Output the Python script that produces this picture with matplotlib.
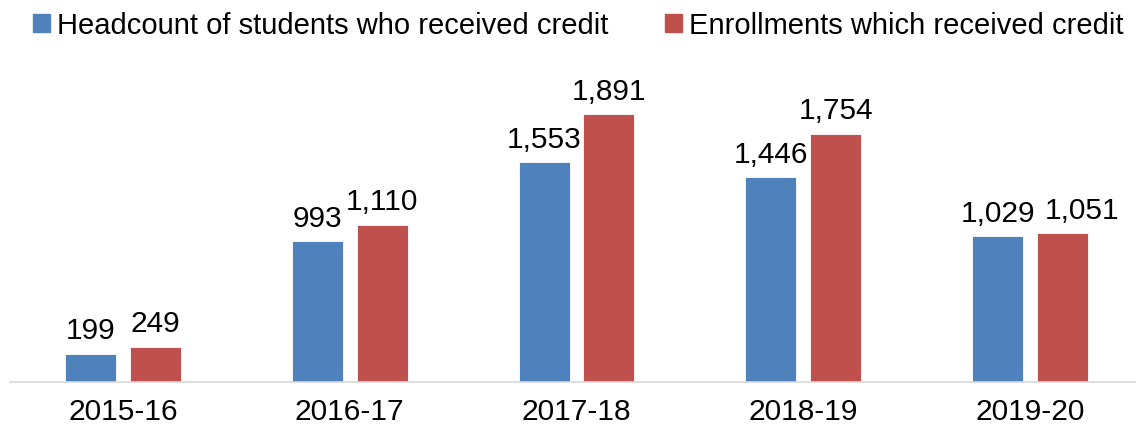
import matplotlib
matplotlib.use("Agg")
import matplotlib.pyplot as plt
import numpy as np
from matplotlib.patches import Patch

plt.rcParams['font.family'] = ['Liberation Sans', 'DejaVu Sans']

years = ["2015-16", "2016-17", "2017-18", "2018-19", "2019-20"]
headcount = [199, 993, 1553, 1446, 1029]
enrollments = [249, 1110, 1891, 1754, 1051]

blue = "#4F81BD"
red = "#C0504D"
fs = 21.5

W, H = 1136, 431
fig = plt.figure(figsize=(W / 100, H / 100), dpi=100)
cat_px = 226.75
left_px = 123 - cat_px / 2
ax = fig.add_axes([left_px / W, (H - 383) / H, 5 * cat_px / W, 283 / H])

x = np.arange(len(years))
bw = 0.225
off = 0.143
b1 = ax.bar(x - off, headcount, bw, color=blue, edgecolor="white", linewidth=0.6)
b2 = ax.bar(x + off, enrollments, bw, color=red, edgecolor="white", linewidth=0.6)

for k, (bars, vals) in enumerate(((b1, headcount), (b2, enrollments))):
    for i, (rect, v) in enumerate(zip(bars, vals)):
        # nudge the last red label right so it clears its neighbour
        dx = 14 if (k == 1 and i == len(vals) - 1) else 0
        ax.annotate(f"{v:,}", (rect.get_x() + rect.get_width() / 2, v),
                    xytext=(dx, 7), textcoords="offset points",
                    ha="center", va="bottom", fontsize=fs, color="black",
                    annotation_clip=False)

ax.set_xlim(-0.5, 4.5)
ax.set_ylim(0, 2000)
ax.set_xticks(x)
ax.set_xticklabels(years, fontsize=fs)
ax.tick_params(axis="x", length=0, pad=11)
ax.set_yticks([])
for s in ("top", "right", "left"):
    ax.spines[s].set_visible(False)
ax.spines["bottom"].set_color("#D9D9D9")
ax.spines["bottom"].set_linewidth(1.2)

handles = [Patch(color=blue), Patch(color=red)]
fig.legend(handles, ["Headcount of students who received credit",
                     "Enrollments which received credit"],
           loc="upper left", bbox_to_anchor=(33 / W, 1 - 12 / H), ncol=2,
           frameon=False, fontsize=21, handlelength=0.58, handleheight=0.58,
           handletextpad=0.24, columnspacing=1.95, borderpad=0,
           borderaxespad=0)

fig.savefig("out.png", dpi=100)
